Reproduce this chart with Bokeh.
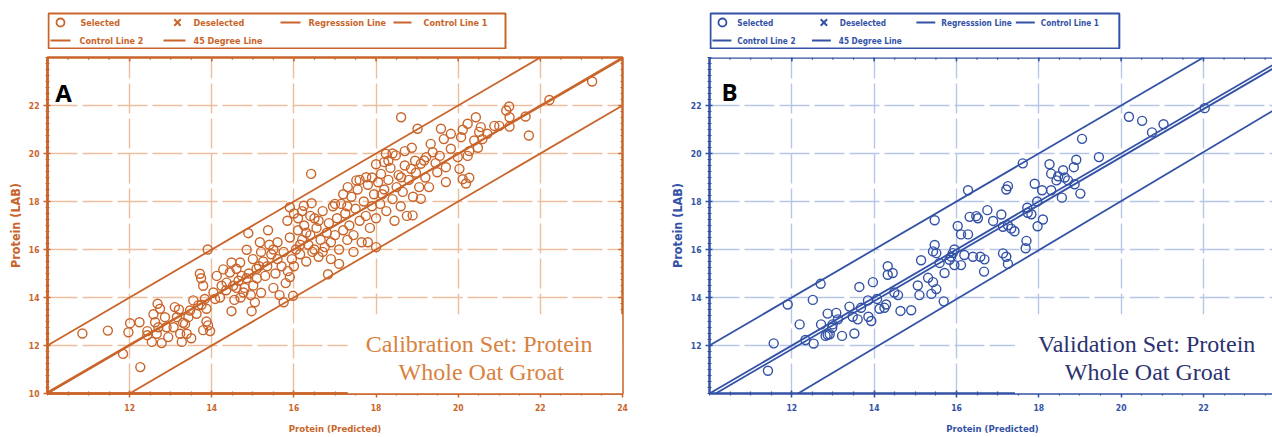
from bokeh.plotting import figure
from bokeh.layouts import row, column
from bokeh.models import Range1d, FixedTicker, Label, BoxAnnotation, Span
from bokeh.core.properties import value
from bokeh.embed import file_html
from bokeh.resources import INLINE

# ---------------- data: panel A (calibration set) ----------------
a_pred = [10.85, 11.47, 11.84, 12.26, 12.01, 11.97, 12.24, 12.43, 12.43, 12.68,
          12.58, 12.62, 12.70, 12.54, 12.66, 12.78, 12.90, 12.94, 12.86, 12.74,
          13.10, 13.15, 13.07, 13.23, 13.27, 13.35, 13.39, 13.43, 13.47, 13.55,
          13.63, 13.67, 13.50, 13.30, 13.20, 13.71, 13.74, 13.79, 13.83, 13.87,
          13.91, 13.79, 13.87, 13.96, 13.90, 13.75, 14.04, 14.08, 14.12, 14.24,
          14.28, 14.36, 14.48, 14.44, 14.48, 14.52, 14.60, 14.69, 14.73, 14.77,
          14.85, 14.89, 14.97, 15.01, 15.09, 15.17, 15.37, 14.20, 14.35, 14.55,
          14.65, 14.80, 14.90, 14.95, 15.05, 15.10, 15.20, 15.25, 15.30, 15.35,
          15.45, 15.50, 15.55, 15.60, 15.65, 15.70, 15.20, 15.40, 15.50, 15.15,
          14.70, 14.60, 15.00, 14.85, 15.60, 15.75, 15.80, 15.85, 15.90, 15.95,
          15.75, 15.98, 15.90, 16.00, 16.05, 16.10, 16.15, 16.20, 16.25, 16.30,
          16.35, 16.40, 16.45, 16.50, 16.55, 16.60, 16.65, 16.70, 16.75, 16.80,
          16.85, 16.90, 16.95, 17.00, 16.83, 16.10, 16.20, 16.00, 15.90, 15.84,
          16.24, 16.43, 16.42, 16.50, 16.30, 16.70, 16.90, 16.60, 16.40, 16.15,
          17.05, 17.10, 17.15, 17.20, 17.25, 17.30, 17.31, 17.35, 17.40, 17.45,
          17.50, 17.55, 17.60, 17.65, 17.70, 17.75, 17.76, 17.80, 17.85, 17.90,
          17.95, 18.00, 17.10, 17.45, 17.60, 17.90, 18.00, 17.80, 17.30, 17.00,
          17.20, 18.05, 18.10, 18.12, 18.15, 18.20, 18.24, 18.25, 18.30, 18.35,
          18.40, 18.45, 18.48, 18.50, 18.55, 18.60, 18.61, 18.61, 18.65, 18.70,
          18.75, 18.80, 18.85, 18.87, 18.89, 18.90, 18.95, 18.97, 19.01, 19.05,
          18.30, 18.40, 18.70, 18.20, 19.09, 19.09, 19.17, 19.22, 19.29, 19.33,
          19.38, 19.45, 19.49, 19.58, 19.65, 19.70, 19.70, 19.82, 19.82, 19.99,
          19.55, 19.20, 20.03, 20.07, 20.11, 20.11, 20.19, 20.23, 20.23, 20.27,
          20.27, 20.39, 20.43, 20.48, 20.51, 20.55, 20.59, 20.71, 20.88, 21.00,
          21.17, 21.24, 21.25, 21.25, 21.64, 21.72, 22.22, 23.26, 18.00, 17.52]
a_lab = [12.50, 12.62, 11.65, 11.10, 12.93, 12.55, 12.97, 12.60, 12.43, 13.74,
         13.30, 12.97, 12.76, 12.15, 12.49, 12.10, 12.76, 12.35, 13.18, 13.53,
         13.60, 13.18, 12.76, 12.49, 12.15, 12.90, 12.49, 13.18, 13.46, 13.88,
         13.32, 13.67, 12.30, 12.95, 13.50, 14.99, 14.80, 14.49, 13.94, 13.53,
         12.84, 12.64, 13.00, 12.60, 16.00, 13.70, 14.21, 13.94, 14.90, 14.49,
         15.17, 14.62, 15.46, 15.04, 13.43, 14.49, 15.20, 15.46, 14.90, 14.21,
         15.99, 16.68, 13.43, 14.50, 15.20, 16.30, 16.80, 14.00, 14.30, 13.90,
         14.70, 14.40, 15.00, 14.10, 13.80, 14.80, 14.20, 15.50, 14.90, 15.30,
         15.80, 14.40, 15.00, 15.60, 14.10, 15.30, 15.90, 16.20, 16.00, 15.30,
         14.00, 14.40, 15.60, 14.80, 16.30, 15.90, 14.60, 15.10, 16.50, 15.60,
         13.80, 14.07, 14.85, 15.30, 16.00, 16.80, 15.80, 16.40, 17.00, 15.50,
         16.20, 16.60, 15.90, 17.30, 16.90, 15.70, 16.40, 17.60, 16.10, 16.70,
         17.10, 16.30, 17.80, 16.60, 14.97, 17.30, 17.60, 17.50, 17.76, 17.20,
         17.82, 17.93, 19.15, 16.00, 16.70, 15.90, 15.60, 17.20, 17.40, 16.20,
         17.30, 16.00, 17.90, 16.80, 17.50, 16.40, 18.60, 17.00, 18.20, 16.60,
         17.70, 18.50, 17.20, 16.30, 18.00, 17.40, 19.01, 18.70, 16.90, 17.80,
         18.30, 16.10, 15.40, 15.90, 18.90, 19.00, 17.30, 16.30, 17.80, 17.90,
         18.30, 18.80, 17.90, 19.15, 18.30, 19.64, 19.99, 17.60, 18.90, 19.40,
         18.10, 17.20, 19.92, 18.60, 19.10, 17.80, 19.01, 21.51, 18.40, 19.50,
         17.40, 18.90, 19.36, 20.24, 17.42, 18.20, 19.70, 19.20, 21.03, 18.60,
         19.70, 20.00, 20.10, 18.50, 19.57, 18.11, 19.71, 19.85, 18.60, 20.40,
         20.05, 19.60, 19.22, 21.03, 20.60, 18.81, 19.43, 20.82, 20.20, 19.85,
         19.90, 19.00, 19.36, 20.68, 20.99, 18.93, 18.75, 21.24, 19.90, 20.10,
         18.99, 20.54, 21.51, 20.24, 20.90, 21.10, 20.60, 20.82, 21.15, 21.15,
         21.79, 21.96, 21.51, 21.12, 21.54, 20.75, 22.23, 23.00, 19.55, 18.88]

# lines of panel A: [x_start, x_end], [y_start, y_end]
a_reg_x, a_reg_y = [10.0, 24.0], [10.05, 23.95]
a_ctl1_x, a_ctl1_y = [10.0, 22.0], [12.0, 24.0]
a_ctl2_x, a_ctl2_y = [12.0, 24.0], [10.0, 22.0]
a_deg_x, a_deg_y = [10.0, 24.0], [10.0, 24.0]

# ---------------- data: panel B (validation set) ----------------
b_pred = [11.42, 11.56, 11.90, 12.19, 12.33, 12.51, 12.53, 12.70, 12.71, 12.82,
          12.92, 12.87, 12.87, 12.99, 13.08, 13.12, 12.98, 13.22, 13.40, 13.48,
          13.52, 13.60, 13.64, 13.68, 13.85, 13.86, 13.93, 13.97, 14.07, 14.13,
          14.25, 14.29, 14.33, 14.33, 14.45, 14.49, 14.58, 14.64, 14.90, 15.06,
          15.10, 15.14, 15.31, 15.39, 15.43, 15.51, 15.47, 15.43, 15.51, 15.59,
          15.47, 15.69, 15.71, 15.83, 15.91, 15.95, 15.87, 15.95, 16.11, 16.19,
          16.40, 16.58, 16.68, 16.67, 16.03, 16.11, 16.28, 16.32, 16.48, 16.52,
          16.28, 16.75, 16.89, 17.09, 17.13, 17.25, 17.33, 17.41, 17.13, 17.21,
          17.25, 17.68, 17.70, 17.72, 17.82, 17.73, 18.10, 17.97, 17.25, 17.21,
          17.61, 17.90, 17.96, 18.08, 18.30, 18.43, 18.56, 18.26, 18.30, 18.47,
          18.63, 18.71, 18.87, 19.01, 18.59, 18.85, 18.91, 19.05, 19.46, 20.19,
          20.51, 20.75, 21.03, 22.03]
b_lab = [10.95, 12.09, 13.71, 12.88, 12.23, 13.90, 12.08, 14.57, 12.88, 12.40,
         12.47, 12.45, 13.33, 12.88, 13.36, 13.09, 12.74, 12.40, 13.62, 13.20,
         12.50, 13.09, 14.44, 13.57, 13.88, 13.20, 13.02, 14.64, 13.94, 13.53,
         13.57, 13.71, 15.30, 14.95, 15.02, 14.21, 14.10, 13.44, 13.47, 14.50,
         14.10, 15.55, 14.82, 14.15, 14.64, 14.35, 16.19, 15.92, 15.85, 15.44,
         17.22, 13.84, 15.02, 15.57, 15.85, 16.00, 15.70, 15.35, 15.35, 15.77,
         15.70, 15.70, 15.59, 15.08, 16.98, 16.63, 16.63, 17.36, 17.39, 17.30,
         18.47, 17.64, 17.19, 17.46, 16.95, 17.01, 16.87, 16.76, 15.84, 15.70,
         15.40, 16.05, 16.36, 17.74, 17.47, 17.53, 17.25, 16.97, 18.64, 18.50,
         19.59, 18.74, 18.00, 18.47, 18.47, 18.88, 18.16, 19.55, 19.16, 19.05,
         19.00, 18.88, 18.72, 18.33, 19.30, 19.43, 19.74, 20.61, 19.85, 21.53,
         21.36, 20.88, 21.22, 21.89]

b_reg_x, b_reg_y = [10.15, 24.0], [10.0, 23.85]
b_ctl1_x, b_ctl1_y = [10.0, 22.0], [12.0, 24.0]
b_ctl2_x, b_ctl2_y = [12.15, 24.0], [10.0, 22.1]
b_deg_x, b_deg_y = [10.0, 24.0], [10.0, 24.0]

legend_labels = ["Selected", "Deselected", "Regresssion Line", "Control Line 1",
                 "Control Line 2", "45 Degree Line"]
x_axis_title = "Protein (Predicted)"
y_axis_title = "Protein (LAB)"

NARROW = "DejaVu Sans Condensed, Roboto, sans-serif"


def seq(start, stop, step):
    out, v = [], start
    while v <= stop + 1e-9:
        out.append(round(v, 3))
        v += step
    return out


def style_axis(ax, color, vertical=False):
    ax.axis_line_color = color
    ax.axis_line_width = 2.5
    ax.major_tick_line_color = color
    ax.minor_tick_line_color = color
    ax.major_tick_line_width = 1.5
    ax.minor_tick_line_width = 1.2
    ax.major_tick_in = 3
    ax.major_tick_out = 4
    ax.minor_tick_in = 2
    ax.minor_tick_out = 2
    ax.major_label_text_color = color
    ax.major_label_text_font = NARROW
    ax.major_label_text_font_style = "bold"
    ax.major_label_text_font_size = "8.5px"
    ax.major_label_standoff = 4 if vertical else 6
    ax.axis_label_text_color = color
    ax.axis_label_text_font = NARROW
    ax.axis_label_text_font_style = "bold"
    ax.axis_label_text_font_size = "12.5px" if vertical else "9.5px"
    ax.axis_label_standoff = 3 if vertical else 9


def build(px, py, lines, x_end, x_major, y_major, frame_w, mb_left, mb_right,
          full_frame, color, grid_color, caption_color, letter, letter_xy,
          caption, cap_x):
    p = figure(x_range=Range1d(10, x_end), y_range=Range1d(10, 24),
               frame_width=frame_w, frame_height=336,
               min_border_left=mb_left, min_border_right=mb_right,
               min_border_top=8, min_border_bottom=43,
               output_backend="svg", toolbar_location=None)
    p.background_fill_color = "white"
    p.border_fill_color = "white"

    bottom = p.below[0]
    left = p.left[0]
    bottom.ticker = FixedTicker(ticks=x_major, minor_ticks=seq(10, 24, 0.5))
    left.ticker = FixedTicker(ticks=y_major, minor_ticks=seq(10, 24, 0.25))
    style_axis(bottom, color)
    style_axis(left, color, vertical=True)
    bottom.axis_label = x_axis_title
    left.axis_label = y_axis_title

    for g in (p.xgrid[0], p.ygrid[0]):
        g.grid_line_color = grid_color
        g.grid_line_width = 1.4
        g.grid_line_dash = "30 5"

    # frame border: full box for A, top edge only for the cut-off panel B
    if full_frame:
        p.outline_line_color = color
        p.outline_line_width = 2.5
        p.outline_line_alpha = 1.0
    else:
        p.outline_line_color = None
        p.add_layout(Span(location=24, dimension="width", line_color=color,
                          line_width=2.5))

    # inward tick marks along the top (and right) frame edges
    top_major = seq(10, 24, 2)
    top_minor = seq(10, 24, 0.5)
    p.segment(x0=top_minor, y0=[24] * len(top_minor), x1=top_minor,
              y1=[23.91] * len(top_minor), line_color=color, line_width=1.2)
    p.segment(x0=top_major, y0=[24] * len(top_major), x1=top_major,
              y1=[23.83] * len(top_major), line_color=color, line_width=1.5)
    if full_frame:
        r_major = seq(10, 24, 2)
        r_minor = seq(10, 24, 0.25)
        p.segment(x0=[24] * len(r_minor), y0=r_minor, x1=[23.95] * len(r_minor),
                  y1=r_minor, line_color=color, line_width=1.2)
        p.segment(x0=[24] * len(r_major), y0=r_major, x1=[23.9] * len(r_major),
                  y1=r_major, line_color=color, line_width=1.5)

    for (lx, ly) in lines:
        p.line(lx, ly, line_color=color, line_width=1.8)
    p.scatter(px, py, marker="circle", size=9, fill_color=None,
              line_color=color, line_width=1.4)

    # white caption box hides the grid in the lower right corner
    p.add_layout(BoxAnnotation(left=cap_x[0] - 3.2, right=24, bottom=10, top=13.3,
                               fill_color="white", fill_alpha=1.0, line_color=None))
    p.add_layout(Label(x=letter_xy[0], y=letter_xy[1], text=letter,
                       text_font="Open Sans", text_font_style="bold",
                       text_font_size="24px", text_color="black",
                       text_baseline="alphabetic"))
    for i, line_text in enumerate(caption):
        p.add_layout(Label(x=cap_x[i], y=[12.08, 10.88][i], text=line_text,
                           text_align="center", text_baseline="alphabetic",
                           text_font="Liberation Serif",
                           text_font_size="24px", text_color=caption_color))
    return p


def legend_panel(width, frame_span, color, font, box, keys, labels_xy):
    """Legend strip; its frame is aligned with the plot frame below it, so the
    x range is given in page pixels of that frame and y in pixels from the top."""
    lf = figure(width=width, height=49, x_range=Range1d(*frame_span),
                y_range=Range1d(49, 0),
                min_border=0, x_axis_location=None, y_axis_location=None,
                output_backend="svg", toolbar_location=None)
    lf.outline_line_color = None
    lf.background_fill_color = "white"
    lf.border_fill_color = "white"
    lf.xgrid.visible = False
    lf.ygrid.visible = False
    lf.quad(left=[box[0]], right=[box[1]], top=[box[2]], bottom=[box[3]],
            fill_color="white", line_color=color, line_width=2)
    (ox, oy), (xx, xy), lines = keys
    lf.scatter([ox], [oy], marker="circle", size=8, fill_color=None,
               line_color=color, line_width=1.8)
    lf.scatter([xx], [xy], marker="x", size=9, line_color=color, line_width=2)
    lf.segment(x0=[s[0] for s in lines], y0=[s[2] for s in lines],
               x1=[s[1] for s in lines], y1=[s[2] for s in lines],
               line_color=color, line_width=1.8)
    lf.text(x=[q[0] for q in labels_xy], y=[q[1] for q in labels_xy],
            text=legend_labels, text_font=value(NARROW), text_font_style="bold",
            text_font_size=font, text_color=color, text_baseline="middle")
    return lf


A_COL = "#C9652A"
B_COL = "#3352A6"

pA = build(a_pred, a_lab,
           [(a_reg_x, a_reg_y), (a_ctl1_x, a_ctl1_y), (a_ctl2_x, a_ctl2_y), (a_deg_x, a_deg_y)],
           24, seq(12, 24, 2), seq(10, 22, 2), 575, 47, 44, True,
           A_COL, "#EDBE9E", "#D9813F", "A", (10.19, 22.54),
           ["Calibration Set: Protein", "Whole Oat Groat"], [20.51, 20.56])

pB = build(b_pred, b_lab,
           [(b_reg_x, b_reg_y), (b_ctl1_x, b_ctl1_y), (b_ctl2_x, b_ctl2_y), (b_deg_x, b_deg_y)],
           23.75, seq(12, 22, 2), seq(12, 22, 2), 566, 39, 0, False,
           B_COL, "#B7C6E8", "#2C3170", "B", (10.29, 22.58),
           ["Validation Set: Protein", "Whole Oat Groat"], [20.62, 20.64])

legA = legend_panel(666, (47, 622), A_COL, "9px", (48, 505, 13, 48),
                    ((60, 22), (177, 22),
                     [(280, 300, 22), (393, 411, 22), (50, 70, 40), (163, 185, 40)]),
                    [(80, 22), (193, 22), (308, 22), (423, 22), (79, 40), (193, 40)])
legB = legend_panel(606, (705, 1271), B_COL, "8.2px", (706, 1117, 13, 48),
                    ((718, 22), (820, 22),
                     [(913, 932, 22), (1013, 1032, 22), (708, 727, 40), (808, 827, 40)]),
                    [(733, 22), (836, 22), (938, 22), (1038, 22), (733, 40), (835, 40)])

layout = row(column(legA, pA), column(legB, pB))
open("out.html", "w").write(file_html(layout, INLINE))
